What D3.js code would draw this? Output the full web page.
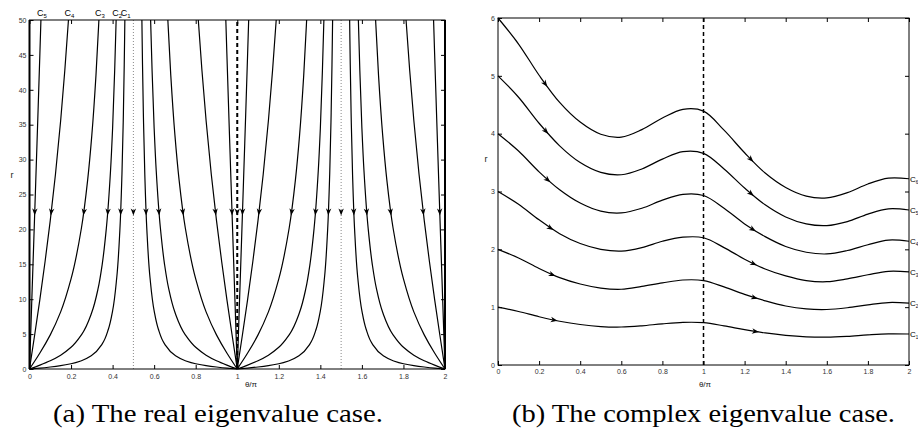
<!DOCTYPE html>
<html>
<head>
<meta charset="utf-8">
<script src="https://cdn.jsdelivr.net/npm/d3@7"></script>
<style>
  body { margin: 0; background: #fff; }
  svg { display: block; }
  text { font-family: "Liberation Sans", Arial, Helvetica, sans-serif; }
  text.caption { font-family: "Liberation Serif", "DejaVu Serif", serif; }
</style>
</head>
<body>
<div id="chart"></div>
<script>
// ---- data ----
const thetaTicks = [0, 0.2, 0.4, 0.6, 0.8, 1, 1.2, 1.4, 1.6, 1.8, 2];
const realRTicks = [0, 5, 10, 15, 20, 25, 30, 35, 40, 45, 50];
const complexRTicks = [0, 1, 2, 3, 4, 5, 6];

// (a) real case: one branch per constant, [theta/pi, r], first quarter only
const realC1 = [[0, 0], [0.05, 0.13], [0.1, 0.29], [0.15, 0.48], [0.2, 0.75], [0.25, 1.18], [0.3, 1.96],
  [0.35, 3.61], [0.38, 5.73], [0.4, 8.32], [0.42, 13.1], [0.435, 19.9], [0.445, 27.9], [0.452, 36.7],
  [0.456, 43.6], [0.459, 50]];
const realC2 = [[0, 0], [0.05, 0.56], [0.1, 1.18], [0.15, 1.98], [0.2, 3.11], [0.25, 4.9], [0.3, 8.12],
  [0.33, 11.5], [0.35, 15], [0.37, 20.2], [0.39, 28.4], [0.4, 34.5], [0.41, 42.8], [0.417, 50]];
const realC3 = [[0, 0], [0.05, 2.29], [0.1, 4.89], [0.15, 8.18], [0.2, 12.9], [0.25, 20.2], [0.28, 27.1],
  [0.3, 33.5], [0.32, 42.1], [0.334, 50]];
const realC4 = [[0, 0], [0.025, 4.91], [0.05, 9.98], [0.075, 15.4], [0.1, 21.3], [0.125, 27.9],
  [0.15, 35.6], [0.17, 42.8], [0.1875, 50]];
const realC5 = [[0, 0], [0.01, 8.87], [0.02, 17.8], [0.03, 26.8], [0.04, 35.9], [0.05, 45.2], [0.055, 50]];
const realCurves = [realC1, realC2, realC3, realC4, realC5];
const realLabels = ["1", "2", "3", "4", "5"];
const realDotted = [0.5, 1.5];
const realDashed = [1];
const realArrowR = 22;

// (b) complex case, r sampled every 0.1 of theta/pi
const complexTheta = [0, 0.1, 0.2, 0.3, 0.4, 0.5, 0.6, 0.7, 0.8, 0.9, 1,
  1.1, 1.2, 1.3, 1.4, 1.5, 1.6, 1.7, 1.8, 1.9, 2];
const complexC1 = [1, 0.925, 0.835, 0.757, 0.7, 0.665, 0.657, 0.678, 0.712, 0.737, 0.732,
  0.677, 0.611, 0.554, 0.512, 0.487, 0.481, 0.496, 0.521, 0.539, 0.536];
const complexC2 = [2, 1.85, 1.67, 1.51, 1.4, 1.33, 1.31, 1.36, 1.42, 1.47, 1.46,
  1.35, 1.22, 1.11, 1.02, 0.97, 0.96, 0.99, 1.04, 1.08, 1.07];
const complexC3 = [3, 2.78, 2.51, 2.27, 2.1, 2.0, 1.97, 2.03, 2.14, 2.21, 2.2,
  2.03, 1.83, 1.66, 1.54, 1.46, 1.44, 1.49, 1.56, 1.62, 1.61];
const complexC4 = [4, 3.7, 3.34, 3.03, 2.8, 2.66, 2.63, 2.71, 2.85, 2.95, 2.93,
  2.71, 2.44, 2.22, 2.05, 1.95, 1.92, 1.98, 2.08, 2.16, 2.14];
const complexC5 = [5, 4.63, 4.18, 3.79, 3.5, 3.33, 3.29, 3.39, 3.56, 3.69, 3.66,
  3.39, 3.06, 2.77, 2.56, 2.44, 2.41, 2.48, 2.61, 2.7, 2.68];
const complexC6 = [6, 5.55, 5.01, 4.54, 4.2, 3.99, 3.94, 4.07, 4.27, 4.42, 4.39,
  4.06, 3.67, 3.32, 3.07, 2.92, 2.89, 2.98, 3.13, 3.23, 3.22];
const complexCurves = [complexC1, complexC2, complexC3, complexC4, complexC5, complexC6];
const complexLabels = ["1", "2", "3", "4", "5", "6"];
const complexArrow1 = [0.29, 0.28, 0.27, 0.255, 0.245, 0.24];
const complexArrow2 = [1.27, 1.265, 1.26, 1.255, 1.245, 1.243];
const complexDashed = [1];

const captions = ["(a) The real eigenvalue case.", "(b) The complex eigenvalue case."];

// ---- layout ----
const svg = d3.select("#chart").append("svg")
  .attr("width", 918)
  .attr("height", 439);

const realX = d3.scaleLinear().domain([0, 2]).range([29.5, 445]);
const realY = d3.scaleLinear().domain([0, 50]).range([369, 20]);
const cplxX = d3.scaleLinear().domain([0, 2]).range([498, 909]);
const cplxY = d3.scaleLinear().domain([0, 6]).range([365, 18]);

const fmt = d3.format("~g");

function frame(x, y, yTicks, xPad) {
  const [x0, x1] = x.range(), [y0, y1] = y.range();
  const g = svg.append("g");
  g.append("g").attr("transform", `translate(0,${y0})`)
    .call(d3.axisBottom(x).tickValues(thetaTicks).tickSize(-4).tickSizeOuter(0).tickPadding(xPad).tickFormat(fmt));
  g.append("g").attr("transform", `translate(0,${y1})`)
    .call(d3.axisTop(x).tickValues(thetaTicks).tickSize(-4).tickSizeOuter(0).tickFormat(""));
  g.append("g").attr("transform", `translate(${x0},0)`)
    .call(d3.axisLeft(y).tickValues(yTicks).tickSize(-4).tickSizeOuter(0).tickPadding(3).tickFormat(fmt));
  g.append("g").attr("transform", `translate(${x1},0)`)
    .call(d3.axisRight(y).tickValues(yTicks).tickSize(-4).tickSizeOuter(0).tickFormat(""));
  g.selectAll(".domain").remove();
  g.selectAll(".tick line").attr("stroke", "#000");
  g.selectAll(".tick text")
    .attr("font-size", 7)
    .attr("fill", "#333");
  g.append("rect")
    .attr("x", x0).attr("y", y1)
    .attr("width", x1 - x0).attr("height", y0 - y1)
    .attr("fill", "none").attr("stroke", "#000").attr("stroke-width", 1);
  return g;
}

function findLength(node, f, target) {
  let lo = 0, hi = node.getTotalLength();
  for (let i = 0; i < 40; i++) {
    const mid = (lo + hi) / 2;
    if (f(node.getPointAtLength(mid)) < target) lo = mid; else hi = mid;
  }
  return (lo + hi) / 2;
}

function arrow(g, x, y, angle) {
  g.append("path")
    .attr("d", "M0,0L-7,-2.7L-5,0L-7,2.7Z")
    .attr("transform", `translate(${x},${y}) rotate(${angle})`)
    .attr("fill", "#000");
}

const deg = 180 / Math.PI;

// ---- (a) real eigenvalue case ----
const gA = svg.append("g");

realDotted.forEach(t => {
  gA.append("line")
    .attr("x1", realX(t)).attr("x2", realX(t))
    .attr("y1", realY(0)).attr("y2", realY(50))
    .attr("stroke", "#888").attr("stroke-width", 1).attr("stroke-dasharray", "1,2");
  arrow(gA, realX(t), realY(realArrowR), 90);
});
realDashed.forEach(t => {
  gA.append("line")
    .attr("x1", realX(t)).attr("x2", realX(t))
    .attr("y1", realY(0)).attr("y2", realY(50))
    .attr("stroke", "#000").attr("stroke-width", 2).attr("stroke-dasharray", "4,3");
  arrow(gA, realX(t), realY(realArrowR), 90);
});
// the two r-axis trajectories at theta = 0 and 2
[0, 2].forEach(t => {
  gA.append("line")
    .attr("x1", realX(t)).attr("x2", realX(t))
    .attr("y1", realY(0)).attr("y2", realY(50))
    .attr("stroke", "#000").attr("stroke-width", 2);
});

// each branch shows up once per quarter of the circle
const quarters = [u => u, u => 1 - u, u => 1 + u, u => 2 - u];
const realLine = d3.line().curve(d3.curveMonotoneY);

realCurves.forEach((curve, i) => {
  quarters.forEach(q => {
    const path = gA.append("path")
      .attr("d", realLine(curve.map(d => [realX(q(d[0])), realY(d[1])])))
      .attr("fill", "none")
      .attr("stroke", "#000")
      .attr("stroke-width", 1.2);
    const node = path.node();
    const l = findLength(node, p => -p.y, -realY(realArrowR));
    const p0 = node.getPointAtLength(l), p1 = node.getPointAtLength(Math.max(0, l - 3));
    arrow(gA, p0.x, p0.y, Math.atan2(p1.y - p0.y, p1.x - p0.x) * deg);
  });
  const top = curve[curve.length - 1];
  const lab = gA.append("text")
    .attr("x", realX(top[0]) - 4)
    .attr("y", 16)
    .attr("font-size", 9)
    .attr("fill", "#000")
    .text("C");
  lab.append("tspan").attr("dy", 2).attr("font-size", 6).text(realLabels[i]);
});

frame(realX, realY, realRTicks, 5.5);

svg.append("text")
  .attr("x", 12).attr("y", 178)
  .attr("font-size", 9).attr("text-anchor", "middle").attr("fill", "#222")
  .text("r");
svg.append("text")
  .attr("x", 251).attr("y", 387)
  .attr("font-size", 8).attr("text-anchor", "middle").attr("fill", "#222")
  .text("θ/π");

// ---- (b) complex eigenvalue case ----
const gB = svg.append("g");

complexDashed.forEach(t => {
  gB.append("line")
    .attr("x1", cplxX(t)).attr("x2", cplxX(t))
    .attr("y1", cplxY(0)).attr("y2", cplxY(6))
    .attr("stroke", "#000").attr("stroke-width", 1.5).attr("stroke-dasharray", "4,3");
});

const cplxLine = d3.line().curve(d3.curveCatmullRom.alpha(0.5));

complexCurves.forEach((vals, i) => {
  const path = gB.append("path")
    .attr("d", cplxLine(vals.map((r, j) => [cplxX(complexTheta[j]), cplxY(r)])))
    .attr("fill", "none")
    .attr("stroke", "#000")
    .attr("stroke-width", 1.2);
  const node = path.node();
  [complexArrow1[i], complexArrow2[i]].forEach(t => {
    const l = findLength(node, p => p.x, cplxX(t));
    const p0 = node.getPointAtLength(l), p1 = node.getPointAtLength(l + 3);
    arrow(gB, p0.x, p0.y, Math.atan2(p1.y - p0.y, p1.x - p0.x) * deg);
  });
  const lab = gB.append("text")
    .attr("x", 910)
    .attr("y", cplxY(vals[vals.length - 1]) + 3)
    .attr("font-size", 8)
    .attr("fill", "#000")
    .text("C");
  lab.append("tspan").attr("dy", 2).attr("font-size", 4.5).text(complexLabels[i]);
});

frame(cplxX, cplxY, complexRTicks, 4);

svg.append("text")
  .attr("x", 486).attr("y", 162)
  .attr("font-size", 9).attr("text-anchor", "middle").attr("fill", "#222")
  .text("r");
svg.append("text")
  .attr("x", 705).attr("y", 387)
  .attr("font-size", 8).attr("text-anchor", "middle").attr("fill", "#222")
  .text("θ/π");

// ---- captions ----
const capX = [[53, 383], [512, 895]];
captions.forEach((c, i) => {
  svg.append("text")
    .attr("class", "caption")
    .attr("x", capX[i][0]).attr("y", 422)
    .attr("font-size", 26)
    .attr("fill", "#000")
    .attr("textLength", capX[i][1] - capX[i][0])
    .attr("lengthAdjust", "spacingAndGlyphs")
    .text(c);
});
</script>
</body>
</html>
